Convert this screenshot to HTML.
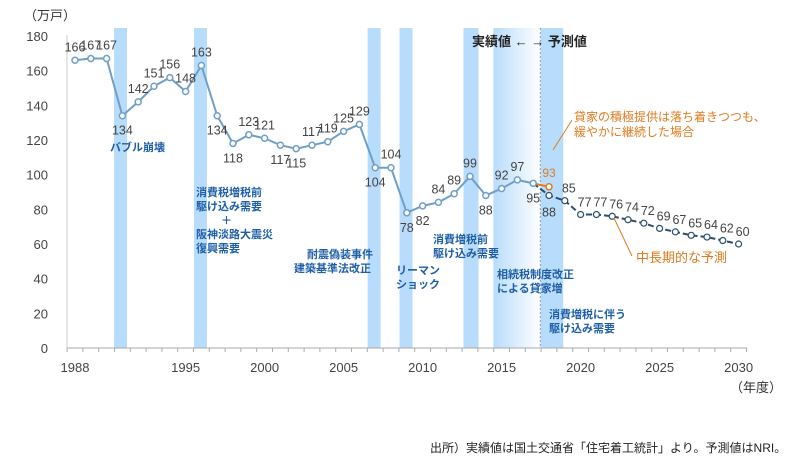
<!DOCTYPE html>
<html><head><meta charset="utf-8"><style>
body{margin:0;background:#fff;width:800px;height:464px;overflow:hidden;font-family:"Liberation Sans","Noto Sans CJK JP",sans-serif}
svg text{font-family:"Liberation Sans","Noto Sans CJK JP",sans-serif}
.tk{font-size:13px;fill:#444}
.vl{font-size:12.5px;fill:#444}
.an{font-size:11px;fill:#1f5fa8;font-weight:bold}
.or{font-size:12px;fill:#e07b20}
</style></head><body>
<svg id="chart" width="800" height="464">
<defs><linearGradient id="gr" x1="0" x2="1"><stop offset="0" stop-color="#b8dcfb"/><stop offset="1" stop-color="#fff"/></linearGradient></defs>
<g id="bands"></g>
<g id="axes"></g>
<g id="series"></g>
<text x="24" y="20" font-size="13" fill="#333">（万戸）</text>
<text x="730" y="392" font-size="13" fill="#333">（年度）</text>
<text x="472" y="46" font-size="13" fill="#222" font-weight="bold">実績値  ←    →  予測値</text>
<text x="110" y="151" class="an">バブル崩壊</text>
<text class="an"><tspan x="196" y="196">消費税増税前</tspan><tspan x="196" y="210">駆け込み需要</tspan><tspan x="221" y="224">＋</tspan><tspan x="196" y="238">阪神淡路大震災</tspan><tspan x="196" y="252">復興需要</tspan></text>
<text class="an"><tspan x="307" y="258">耐震偽装事件</tspan><tspan x="294" y="272">建築基準法改正</tspan></text>
<text class="an"><tspan x="396" y="274">リーマン</tspan><tspan x="396" y="288">ショック</tspan></text>
<text class="an"><tspan x="433" y="243">消費増税前</tspan><tspan x="433" y="257">駆け込み需要</tspan></text>
<text class="an"><tspan x="497" y="278">相続税制度改正</tspan><tspan x="497" y="292">による貸家増</tspan></text>
<text class="an"><tspan x="549" y="318">消費増税に伴う</tspan><tspan x="549" y="332">駆け込み需要</tspan></text>
<text class="or"><tspan x="574" y="121">貸家の積極提供は落ち着きつつも、</tspan><tspan x="574" y="136">緩やかに継続した場合</tspan></text>
<text x="636" y="262" font-size="13" fill="#e07b20">中長期的な予測</text>
<line x1="553" y1="150" x2="572" y2="120" stroke="#e07b20"/>
<line x1="614" y1="218" x2="632" y2="256" stroke="#e07b20"/>
<text x="430" y="452" font-size="12" fill="#222">出所）実績値は国土交通省「住宅着工統計」より。予測値はNRI。</text>
</svg>
<script>
const years=[1988,1989,1990,1991,1992,1993,1994,1995,1996,1997,1998,1999,2000,2001,2002,2003,2004,2005,2006,2007,2008,2009,2010,2011,2012,2013,2014,2015,2016,2017];
const actual=[166,167,167,134,142,151,156,148,163,134,118,123,121,117,115,117,119,125,129,104,104,78,82,84,89,99,88,92,97,95];
const fYears=[2017,2018,2019,2020,2021,2022,2023,2024,2025,2026,2027,2028,2029,2030];
const forecast=[95,88,85,77,77,76,74,72,69,67,65,64,62,60];
const highYears=[2017,2018];
const high=[95,93];
const yTicks=[0,20,40,60,80,100,120,140,160,180];
const xTicks=[1988,1995,2000,2005,2010,2015,2020,2025,2030];
const bandStart=[1990.47,1995.53,2006.52,2008.54,2012.59,2017.45];
const bandEnd=[1991.29,1996.35,2007.34,2009.36,2013.54,2018.9];
const gradStart=2014.48, gradEnd=2017.45, divider=2017.45;
const NS='http://www.w3.org/2000/svg';
const x=y=>75+(y-1988)*15.8, yv=v=>348-v*1.7333;
function mk(t,a,p){const e=document.createElementNS(NS,t);for(const k in a)e.setAttribute(k,a[k]);p.appendChild(e);return e;}
const B=document.getElementById('bands'),A=document.getElementById('axes'),S=document.getElementById('series');
bandStart.forEach((b,i)=>{const r=mk('rect',{x:x(b),y:28,width:x(bandEnd[i])-x(b),height:320,fill:'#b8dcfb'},B);

});
const g=mk('rect',{x:x(gradStart),y:28,width:x(gradEnd)-x(gradStart),height:320,fill:'url(#gr)'},B);


const dl=mk('line',{x1:x(divider),x2:x(divider),y1:28,y2:348,stroke:'#999','stroke-dasharray':'2,2'},B);


mk('line',{x1:67,x2:67,y1:35,y2:348,stroke:'#ccc'},A);
mk('line',{x1:67,x2:747,y1:348,y2:348,stroke:'#aaa'},A);
for(let yy=1988;yy<=2031;yy++)mk('line',{x1:x(yy)-7.9,x2:x(yy)-7.9,y1:348,y2:352,stroke:'#aaa'},A);
yTicks.forEach(v=>{const t=mk('text',{x:48,y:yv(v)+5,'text-anchor':'end',class:'tk'},A);t.textContent=v;

});
xTicks.forEach(v=>{const t=mk('text',{x:x(v),y:372,'text-anchor':'middle',class:'tk'},A);t.textContent=v;

});
function line(xs,vs,st,dash,name){const p=mk('polyline',{points:xs.map((a,i)=>x(a)+','+yv(vs[i])).join(' '),fill:'none',stroke:st,'stroke-width':2,'stroke-dasharray':dash||''},S);

}
line(highYears,high,'#e07b20','','high-scenario-line');
line(fYears,forecast,'#2d4d6e','6,3','forecast-line');
line(years,actual,'#6f9fc6','','actual-line');
const below=[3,9,10,13,14,19,21,22,26,29];
years.forEach((yr,i)=>{const c=mk('circle',{cx:x(yr),cy:yv(actual[i]),r:3,fill:'#fff',stroke:'#6f9fc6','stroke-width':1.5},S);


const dn=below.includes(i);const t=mk('text',{x:x(yr),y:yv(actual[i])+(dn?19:-9),'text-anchor':'middle',class:'vl'},S);t.textContent=actual[i];

});
fYears.forEach((yr,i)=>{if(i==0)return;const c=mk('circle',{cx:x(yr),cy:yv(forecast[i]),r:3,fill:'#fff',stroke:'#2d4d6e','stroke-width':1.2},S);


const t=mk('text',{x:x(yr)+(i==1?0:4),y:yv(forecast[i])+(i==1?21:-8),'text-anchor':'middle',class:'vl'},S);t.textContent=forecast[i];

});
const hc=mk('circle',{cx:x(2018),cy:yv(high[1]),r:3,fill:'#fff',stroke:'#e07b20','stroke-width':1.5},S);


const ht=mk('text',{x:x(2018),y:yv(high[1])-10,'text-anchor':'middle',class:'or'},S);ht.textContent=high[1];


</script>
</body></html>
